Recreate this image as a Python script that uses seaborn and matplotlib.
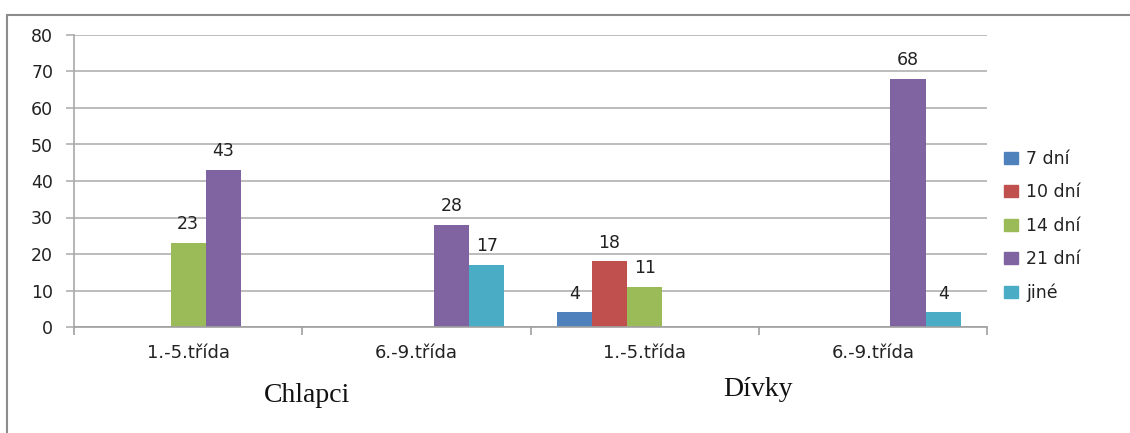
import numpy as np
import pandas as pd
import matplotlib
matplotlib.use("Agg")
import matplotlib.pyplot as plt
import seaborn as sns
from matplotlib.patches import Rectangle

categories = ["1.-5.třída", "6.-9.třída", "1.-5.třída ", "6.-9.třída "]
tick_labels = ["1.-5.třída", "6.-9.třída", "1.-5.třída", "6.-9.třída"]
series = ["7 dní", "10 dní", "14 dní", "21 dní", "jiné"]
v_7 = [np.nan, np.nan, 4, np.nan]
v_10 = [np.nan, np.nan, 18, np.nan]
v_14 = [23, np.nan, 11, np.nan]
v_21 = [43, 28, np.nan, 68]
v_jine = [np.nan, 17, np.nan, 4]
groups = ["Chlapci", "Dívky"]
colors = ["#4F81BD", "#C0504D", "#9BBB59", "#8064A2", "#4BACC6"]

rows = []
for s, vals in zip(series, [v_7, v_10, v_14, v_21, v_jine]):
    for c, v in zip(categories, vals):
        rows.append({"cat": c, "series": s, "value": v})
df = pd.DataFrame(rows).dropna()

sns.set_theme(style="white")
plt.rcParams["font.family"] = ["DejaVu Sans"]

fig = plt.figure(figsize=(11.3, 4.33), dpi=100)
ax = fig.add_axes([74/1130, 1-327/433, (987-74)/1130, (327-35)/433])

sns.barplot(data=df, x="cat", y="value", hue="series", order=categories,
            hue_order=series, palette=colors, width=0.77, linewidth=0,
            saturation=1, ax=ax, legend=True, errorbar=None)

for cont in ax.containers:
    ax.bar_label(cont, fmt="%g", padding=7, fontsize=12.5, color="#222222")

grid_c = "#b0b0b0"
ax.set_ylim(0, 80)
ax.set_xlim(-0.5, 3.5)
ax.set_yticks(range(0, 81, 10))
ax.yaxis.grid(True, color=grid_c, linewidth=1.2)
ax.set_axisbelow(True)
ax.set_xticks(range(4))
ax.set_xticklabels(tick_labels)
ax.set_xticks([-0.5, 0.5, 1.5, 2.5, 3.5], minor=True)
ax.tick_params(axis="x", which="major", length=0, pad=12, labelsize=13, labelcolor="#222222")
ax.tick_params(axis="x", which="minor", length=6, color="#a0a0a0", width=1.2, direction="out", bottom=True)
ax.tick_params(axis="y", length=6, color=grid_c, width=1.2, direction="out", left=True,
               labelsize=12.5, labelcolor="#222222", pad=9)
ax.set_xlabel("")
ax.set_ylabel("")
for side in ["top", "right"]:
    ax.spines[side].set_visible(False)
ax.spines["left"].set_color("#a8a8a8")
ax.spines["left"].set_linewidth(1.2)
ax.spines["bottom"].set_color("#a0a0a0")
ax.spines["bottom"].set_linewidth(1.2)

ax.legend_.remove()
handles = [plt.Rectangle((0, 0), 1, 1, color=c) for c in colors]
fig.legend(handles, series, loc="center left", bbox_to_anchor=(988/1130, 1-226/433),
           frameon=False, handlelength=0.85, handleheight=0.7, handletextpad=0.45,
           labelspacing=0.88, fontsize=12.5, labelcolor="#222222")

fig.text(307/1130, 1-395/433, groups[0], ha="center", va="center",
         fontsize=20, family="Liberation Serif", color="#111111")
fig.text(758/1130, 1-390/433, groups[1], ha="center", va="center",
         fontsize=20, family="Liberation Serif", color="#111111")

fig.patches.append(Rectangle((7/1130, -0.05), 1.2, 1-15/433+0.05, transform=fig.transFigure,
                             fill=False, edgecolor="#8c8c8c", linewidth=1.5))

fig.savefig("out.png", dpi=100)
